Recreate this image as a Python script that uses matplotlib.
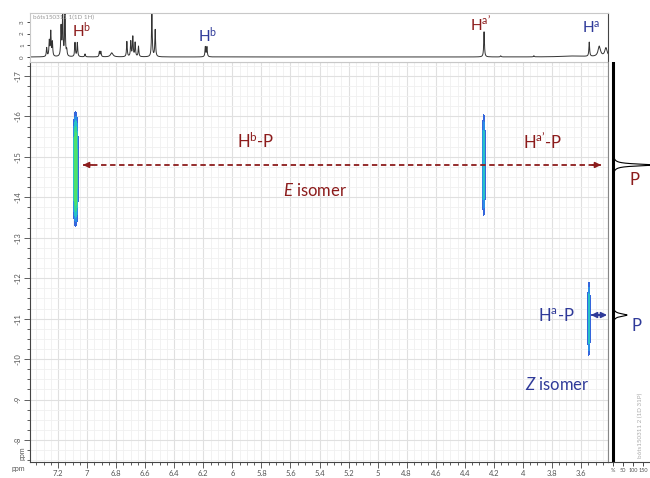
import numpy as np
import matplotlib.pyplot as plt
from matplotlib.ticker import MultipleLocator, FormatStrFormatter

plt.rcParams['font.family'] = ['Lato', 'DejaVu Sans']
plt.rcParams['axes.unicode_minus'] = False
plt.rcParams['mathtext.fontset'] = 'custom'
plt.rcParams['mathtext.rm'] = 'Lato'
plt.rcParams['mathtext.it'] = 'Lato:italic'

# --- 1H spectrum (top trace): peak list ---
h_ppm = [7.278, 7.260, 7.250, 7.239, 7.179, 7.168, 7.152, 7.140, 7.083, 7.067,
         7.014, 6.915, 6.905, 6.830, 6.726, 6.699, 6.685, 6.669, 6.646,
         6.554, 6.531, 6.186, 6.175, 4.267, 4.152, 3.924, 3.650, 3.543, 3.474, 3.428]
h_int = [0.75, 1.3, 2.1, 1.2, 2.5, 3.5, 3.7, 0.5, 1.2, 1.2,
         0.25, 0.45, 0.45, 0.35, 1.3, 1.3, 1.7, 1.2, 0.9,
         3.7, 2.3, 0.85, 0.85, 2.15, 0.1, 0.1, 0.08, 1.22, 0.88, 0.75]
h_wid = [0.003] * 13 + [0.010] + [0.003] * 12 + [0.10, 0.003, 0.010, 0.010]

# --- 31P spectrum (right trace) ---
p_ppm = [-14.80, -11.09]
p_int = [200, 70]
p_wid = [0.03, 0.04]

# --- 2D HMBC cross peaks ---
c_x = [7.079, 4.269, 3.545]
c_y = [-14.70, -14.80, -11.00]
c_amp = [1.0, 0.4, 0.4]
c_wx = [0.0110, 0.0075, 0.0062]
c_wy = [1.12, 1.10, 0.80]

x_lim = (7.393, 3.414)
y_lim = (-7.456, -17.346)
red = '#8c1c1c'
blue = '#2f3a99'

fig = plt.figure(figsize=(6.5, 4.78), dpi=100)
ax = fig.add_axes([0.04615, 0.03347, 0.88923, 0.83682])
ax_top = fig.add_axes([0.04615, 0.87029, 0.88923, 0.10251])
ax_r = fig.add_axes([0.93538, 0.03347, 0.06462, 0.83682])

# main 2D panel
X, Y = np.meshgrid(np.linspace(x_lim[1], x_lim[0], 3000), np.linspace(-17.35, -7.45, 700))
Z = np.zeros_like(X)
for x0, y0, a, wx, wy in zip(c_x, c_y, c_amp, c_wx, c_wy):
    Z += a * np.exp(-((X - x0) / wx) ** 2 - ((Y - y0) / wy) ** 4)
ax.contourf(X, Y, Z, levels=[0.08, 0.16, 0.28, 0.45, 0.65, 2],
            colors=['#3566dc', '#2a8fe6', '#27c2c8', '#35d690', '#4fe06a'], zorder=3)

ax.set_xlim(*x_lim)
ax.set_ylim(*y_lim)
ax.xaxis.set_major_locator(MultipleLocator(0.2))
ax.xaxis.set_minor_locator(MultipleLocator(0.05))
ax.yaxis.set_major_locator(MultipleLocator(1))
ax.yaxis.set_minor_locator(MultipleLocator(0.25))
ax.xaxis.set_major_formatter(FormatStrFormatter('%g'))
ax.yaxis.set_major_formatter(FormatStrFormatter('%g'))
ax.grid(which='major', color='#e0e0e0', lw=0.8)
ax.grid(which='minor', color='#f0f0f0', lw=0.6)
ax.set_axisbelow(True)
ax.tick_params(which='both', direction='out', labelsize=5.5, labelcolor='#555', color='#444', width=0.6, pad=2)
ax.tick_params(which='major', length=4)
ax.tick_params(which='minor', length=2.5)
for lab in ax.get_yticklabels():
    lab.set_rotation(90)
    lab.set_va('center')
for s in ['top', 'right']:
    ax.spines[s].set_color('#bbbbbb')
for s in ['left', 'bottom']:
    ax.spines[s].set_color('#444')
    ax.spines[s].set_linewidth(0.8)

# dashed double arrows
def dashed_arrow(x1, x2, y, color):
    ax.plot([x1, x2], [y, y], ls=(0, (3, 2)), color=color, lw=1.3, zorder=4)
    for xe, xs in [(x1, x1 - 0.06), (x2, x2 + 0.06)]:
        ax.annotate('', xy=(xe, y), xytext=(xs, y),
                    arrowprops=dict(arrowstyle='-|>', color=color, lw=1.3, mutation_scale=8, shrinkA=0, shrinkB=0),
                    zorder=4)

dashed_arrow(7.028, 3.462, -14.80, red)
dashed_arrow(3.531, 3.421, -11.09, blue)

ax.text(5.841, -15.39, 'H$^{\\mathrm{b}}$-P', color=red, fontsize=12, ha='center', va='center')
ax.text(3.862, -15.37, 'H$^{\\mathrm{a\u2019}}$-P', color=red, fontsize=12, ha='center', va='center')
ax.text(5.427, -14.16, '$\\mathit{E}$ isomer', color=red, fontsize=12, ha='center', va='center')
ax.text(3.772, -11.09, 'H$^{\\mathrm{a}}$-P', color=blue, fontsize=12, ha='center', va='center')
ax.text(3.76, -9.36, '$\\mathit{Z}$ isomer', color=blue, fontsize=12, ha='center', va='center')

# top 1H trace
hx = np.linspace(x_lim[1], x_lim[0], 8000)
hy = np.zeros_like(hx)
for p0, h, w in zip(h_ppm, h_int, h_wid):
    hy += h / (1 + ((hx - p0) / w) ** 2)
ax_top.plot(hx, hy, color='#333', lw=0.7)
ax_top.set_xlim(*x_lim)
ax_top.set_ylim(-0.43, 3.76)
ax_top.set_xticks([])
ax_top.set_yticks([0, 1, 2, 3])
ax_top.tick_params(axis='y', direction='out', length=2.5, labelsize=4.5, labelcolor='#555', pad=1, width=0.5)
for lab in ax_top.get_yticklabels():
    lab.set_rotation(90)
    lab.set_va('center')
for s in ['top', 'left', 'bottom']:
    ax_top.spines[s].set_color('#c8c8c8')
ax_top.spines['right'].set_color('#444')
ax_top.text(0.005, 0.9, 'b6ts150311 1(1D 1H)', transform=ax_top.transAxes, fontsize=4.5, color='#999', va='center')
ax_top.text(7.035, 2.3, 'H$^{\\mathrm{b}}$', color=red, fontsize=11, ha='center', va='center')
ax_top.text(6.17, 1.9, 'H$^{\\mathrm{b}}$', color=blue, fontsize=11, ha='center', va='center')
ax_top.text(4.29, 2.7, 'H$^{\\mathrm{a\u2019}}$', color=red, fontsize=11, ha='center', va='center')
ax_top.text(3.531, 2.5, 'H$^{\\mathrm{a}}$', color=blue, fontsize=11, ha='center', va='center')

# right 31P trace
py = np.linspace(-17.35, -7.45, 4000)
px = np.zeros_like(py)
for p0, h, w in zip(p_ppm, p_int, p_wid):
    px += h / (1 + ((py - p0) / w) ** 2)
ax_r.axvline(0, color='black', lw=2.2)
ax_r.plot(px, py, color='black', lw=0.8)
ax_r.set_xlim(-25, 185)
ax_r.set_ylim(*y_lim)
ax_r.set_yticks([])
ax_r.set_xticks([0, 50, 100, 150])
ax_r.set_xticklabels(['%', '50', '100', '150'])
ax_r.tick_params(axis='x', direction='out', length=3, labelsize=4.0, labelcolor='#555', pad=1, width=0.5)
for s in ['top', 'right']:
    ax_r.spines[s].set_visible(False)
ax_r.spines['left'].set_color('#888')
ax_r.spines['bottom'].set_color('#444')
ax_r.text(110, -14.43, 'P', color=red, fontsize=12, ha='center', va='center')
ax_r.text(118, -10.82, 'P', color=blue, fontsize=12, ha='center', va='center')
ax_r.text(0.78, 0.01, 'b6ts150311 2 (1D 31P)', transform=ax_r.transAxes, rotation=90,
          fontsize=4.5, color='#aaa', ha='center', va='bottom')

fig.text(18 / 650, 1 - 469 / 478, 'ppm', fontsize=5, color='#555', ha='center', va='center')
fig.text(22 / 650, 1 - 453 / 478, 'ppm', fontsize=5, color='#555', ha='center', va='center', rotation=90)

fig.savefig('out.png', dpi=100)
